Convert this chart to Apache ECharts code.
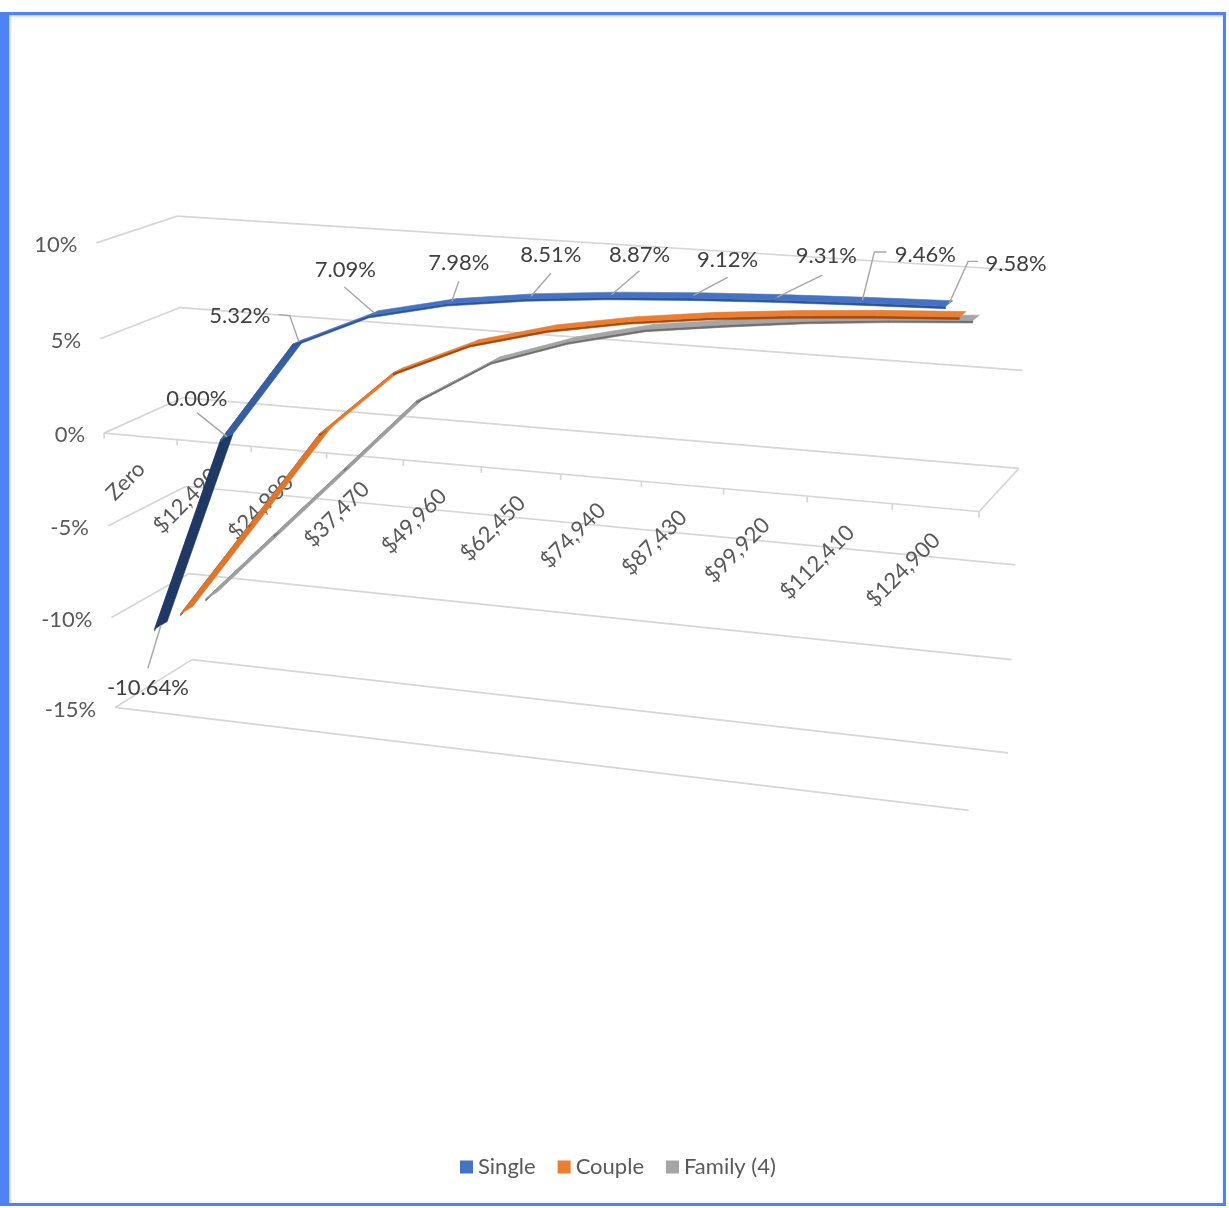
<!DOCTYPE html>
<html><head><meta charset="utf-8">
<script src="https://cdn.jsdelivr.net/npm/echarts@6/dist/echarts.min.js"></script>
<style>
html,body{margin:0;padding:0;background:#fff;}
#chart{position:absolute;left:0;top:0;width:1229px;height:1208px;}
#frame{position:absolute;left:0;top:12px;width:1226px;height:1194px;box-sizing:border-box;border:3px solid #4f82f2;border-left:9px solid #4f82f2;pointer-events:none;box-shadow:inset 1px 1px 3px rgba(79,130,242,0.5);}
</style></head><body>
<div id="chart"></div><div id="frame"></div>
<script>
// ---------------- data ----------------
const categories = ['Zero','$12,490','$24,980','$37,470','$49,960','$62,450','$74,940','$87,430','$99,920','$112,410','$124,900'];
const single = [-10.64, 0.00, 5.32, 7.09, 7.98, 8.51, 8.87, 9.12, 9.31, 9.46, 9.58];
const couple = [-10.64, -5.32, 0.00, 3.55, 5.32, 6.38, 7.09, 7.60, 7.98, 8.28, 8.51];
const family = [-10.64, -6.61, -2.59, 1.44, 3.84, 5.19, 6.15, 6.68, 7.15, 7.50, 7.78];
const yTicks = [10, 5, 0, -5, -10, -15];
const seriesNames = ['Single', 'Couple', 'Family (4)'];

// ---------------- layout (3D frame calibration) ----------------
const VMIN = -15, VMAX = 10, NCAT = categories.length;
const FLAT_W = 1100, FLAT_H = 250;
const TICK_X = [105,178.7,252.2,326.8,404.3,481.8,561.1,641.4,722.9,807.3,892.3,979];
const anchors = [];
TICK_X.forEach((x,k)=>anchors.push([k,0,0,x,433+(x-105)*0.0892]));
anchors.push([0,0,10,95,243],[0,0,5,100,340],[0,0,-5,107,527],[0,0,-10,110,618],[0,0,-15,115,707]);
anchors.push([0,1,10,177,217],[0,1,5,179,307],[0,1,-10,190,573],[0,1,-15,192,659]);
anchors.push([11,1,5,1023,371],[11,1,0,1019,468],[11,1,-5,1015,565],[11,1,-10,1012,660],[11,1,-15,1008,753]);
anchors.push([11,0,-15,968,812]);

function solve(A,b){
  const n=b.length; const M=A.map((r,i)=>r.concat([b[i]]));
  for(let c=0;c<n;c++){
    let p=c; for(let r=c+1;r<n;r++) if(Math.abs(M[r][c])>Math.abs(M[p][c])) p=r;
    const t=M[c]; M[c]=M[p]; M[p]=t;
    for(let r=0;r<n;r++){ if(r===c) continue; const f=M[r][c]/M[c][c]; for(let k=c;k<=n;k++) M[r][k]-=f*M[c][k]; }
  }
  return M.map((r,i)=>r[n]/r[i]);
}
function fitProjection(){
  const N=11; const AtA=Array.from({length:N},()=>new Array(N).fill(0)); const Atb=new Array(N).fill(0);
  anchors.forEach(([u,d,v,x,y])=>{
    const U=u/NCAT, D=d, V=(v-VMIN)/(VMAX-VMIN), X=x/1000, Y=y/1000;
    const rows=[[U,D,V,1,0,0,0,0,-X*U,-X*D,-X*V,X],[0,0,0,0,U,D,V,1,-Y*U,-Y*D,-Y*V,Y]];
    rows.forEach(r=>{ for(let i=0;i<N;i++){ Atb[i]+=r[i]*r[N]; for(let j=0;j<N;j++) AtA[i][j]+=r[i]*r[j]; } });
  });
  return solve(AtA,Atb);
}
const PM = fitProjection();
function proj(u,d,v){
  const U=u/NCAT, D=d, V=(v-VMIN)/(VMAX-VMIN);
  const w=PM[8]*U+PM[9]*D+PM[10]*V+1;
  return [1000*(PM[0]*U+PM[1]*D+PM[2]*V+PM[3])/w, 1000*(PM[4]*U+PM[5]*D+PM[6]*V+PM[7])/w];
}
// flat cartesian pixel -> (u, v)
function toUV(pt){ return [pt[0]/FLAT_W*NCAT, VMAX - pt[1]/FLAT_H*(VMAX-VMIN)]; }

const FONT = 'Lato';
const FS = 22;
const GRID_COLOR = '#d6d6d6';
const DH = 0.08;      // half depth of ribbons
const TH = 0.12;      // ribbon thickness (value units)

function hex2rgb(h){ return [parseInt(h.slice(1,3),16),parseInt(h.slice(3,5),16),parseInt(h.slice(5,7),16)]; }
function mix(a,b,t){ const A=hex2rgb(a),B=hex2rgb(b); return 'rgb('+A.map((x,i)=>Math.round(x+(B[i]-x)*t)).join(',')+')'; }

// label layout for the Single series (offsets in px from the point)
const labelOffsets = [[-13,63],[-30,-38],[-59,-26],[-29,-43],[7,-38],[20,-41],[28,-40],[34,-35],[49,-41],[63,-45],[67,-40]];
const leaderPaths = [[[-13,43]],[[-30,-24]],[[-9,-26],[-20,-27]],[[-30,-26]],[[7,-20]],[[20,-23]],[[28,-24]],[[34,-18]],[[45,-22]],[[12,-48],[24,-48]],[[19,-42],[29,-42]]];

function renderGrid(params, api){
  const tv = api.value(1);
  const v = toUV(api.coord([0, tv]))[1];
  const ch=[];
  const line=(a,b)=>ch.push({type:'line',shape:{x1:a[0],y1:a[1],x2:b[0],y2:b[1]},style:{stroke:GRID_COLOR,lineWidth:1.7}});
  line(proj(0,0,v),proj(0,1,v));
  line(proj(0,1,v),proj(NCAT,1,v));
  if(tv===0){ line(proj(0,0,v),proj(NCAT,0,v)); line(proj(NCAT,0,v),proj(NCAT,1,v)); }
  if(tv===VMIN){ line(proj(0,0,v),proj(NCAT,0,v)); }
  const p=proj(0,0,v);
  ch.push({type:'text',x:p[0]-19,y:p[1]+2,style:{text:tv+'%',align:'right',verticalAlign:'middle',fill:'#595959',fontSize:FS,fontFamily:FONT}});
  return {type:'group',children:ch};
}

function renderCats(params, api){
  const i = api.value(0);
  const u = toUV(api.coord([i, 0]))[0];
  const ch=[];
  const tick=(uu)=>{ const a=proj(uu,0,0), b=proj(uu,0,-0.3); ch.push({type:'line',shape:{x1:a[0],y1:a[1],x2:b[0],y2:b[1]},style:{stroke:GRID_COLOR,lineWidth:1.7}}); };
  tick(u-0.5);
  if(i===NCAT-1) tick(u+0.5);
  const p=proj(u,0,0);
  ch.push({type:'text',x:p[0]+1,y:p[1]+29,rotation:Math.PI/4,style:{text:categories[i],x:0,y:0,align:'right',verticalAlign:'middle',fill:'#595959',fontSize:FS,fontFamily:FONT}});
  return {type:'group',children:ch};
}

function makeRibbon(values, dc, col, labelled){
  return function(params, api){
    const i = api.value(0);
    const A = toUV(api.coord([i, api.value(1)]));
    const ch=[];
    const d0=dc-DH, d1=dc+DH;
    if(i < values.length-1){
      const B = toUV(api.coord([i+1, values[i+1]]));
      const front=[proj(A[0],d0,A[1]),proj(B[0],d0,B[1]),proj(B[0],d0,B[1]-TH),proj(A[0],d0,A[1]-TH)];
      const top=[proj(A[0],d0,A[1]),proj(B[0],d0,B[1]),proj(B[0],d1,B[1]),proj(A[0],d1,A[1])];
      const dv=Math.abs(B[1]-A[1]);
      const t=Math.max(0,Math.min(1,(dv-2.5)/8))*col.k;
      ch.push({type:'polygon',shape:{points:front},style:{fill:col.side,stroke:col.side,lineWidth:0.6}});
      ch.push({type:'polygon',shape:{points:top},style:{fill:mix(col.base,col.dark,t),stroke:mix(col.base,col.dark,t),lineWidth:0.6}});
    }
    if(labelled){
      const p=proj(A[0],dc,A[1]);
      const lp=[p].concat(leaderPaths[i].map(o=>[p[0]+o[0],p[1]+o[1]]));
      ch.push({type:'polyline',shape:{points:lp},style:{stroke:'#a6a6a6',lineWidth:1.4,fill:null},z2:10});
      const o=labelOffsets[i];
      ch.push({type:'text',x:p[0]+o[0],y:p[1]+o[1],z2:11,style:{text:values[i].toFixed(2)+'%',align:'center',verticalAlign:'middle',fill:'#404040',fontSize:FS,fontFamily:FONT}});
    }
    return {type:'group',children:ch};
  };
}

const COLORS = {
  single:{base:'#4472C4',dark:'#1F3864',side:'#2F5597',k:1},
  couple:{base:'#ED7D31',dark:'#843C0C',side:'#9E4A12',k:0.35},
  family:{base:'#A5A5A5',dark:'#595959',side:'#6F6F6F',k:0.5}
};

const chart = echarts.init(document.getElementById('chart'), null, {renderer:'canvas'});
chart.setOption({
  animation:false,
  backgroundColor:'#ffffff',
  grid:{left:0,top:0,width:FLAT_W,height:FLAT_H,show:false},
  xAxis:{type:'category',data:categories,show:false,boundaryGap:true},
  yAxis:{type:'value',min:VMIN,max:VMAX,show:false},
  legend:{data:seriesNames,top:1151,left:455,icon:'rect',itemWidth:13,itemHeight:13,itemGap:22,
    textStyle:{fontSize:FS,color:'#595959',fontFamily:FONT}},
  series:[
    {name:'grid',type:'custom',clip:false,silent:true,data:yTicks.map(v=>[0,v]),renderItem:renderGrid,z:1},
    {name:'cats',type:'custom',clip:false,silent:true,data:categories.map((c,i)=>[i,0]),renderItem:renderCats,z:1},
    {name:'Family (4)',type:'custom',clip:false,data:family.map((v,i)=>[i,v]),renderItem:makeRibbon(family,5/6,COLORS.family,false),itemStyle:{color:'#A5A5A5'},z:2},
    {name:'Couple',type:'custom',clip:false,data:couple.map((v,i)=>[i,v]),renderItem:makeRibbon(couple,1/2,COLORS.couple,false),itemStyle:{color:'#ED7D31'},z:3},
    {name:'Single',type:'custom',clip:false,data:single.map((v,i)=>[i,v]),renderItem:makeRibbon(single,1/6,COLORS.single,true),itemStyle:{color:'#4472C4'},z:4}
  ]
});
</script>
</body></html>
